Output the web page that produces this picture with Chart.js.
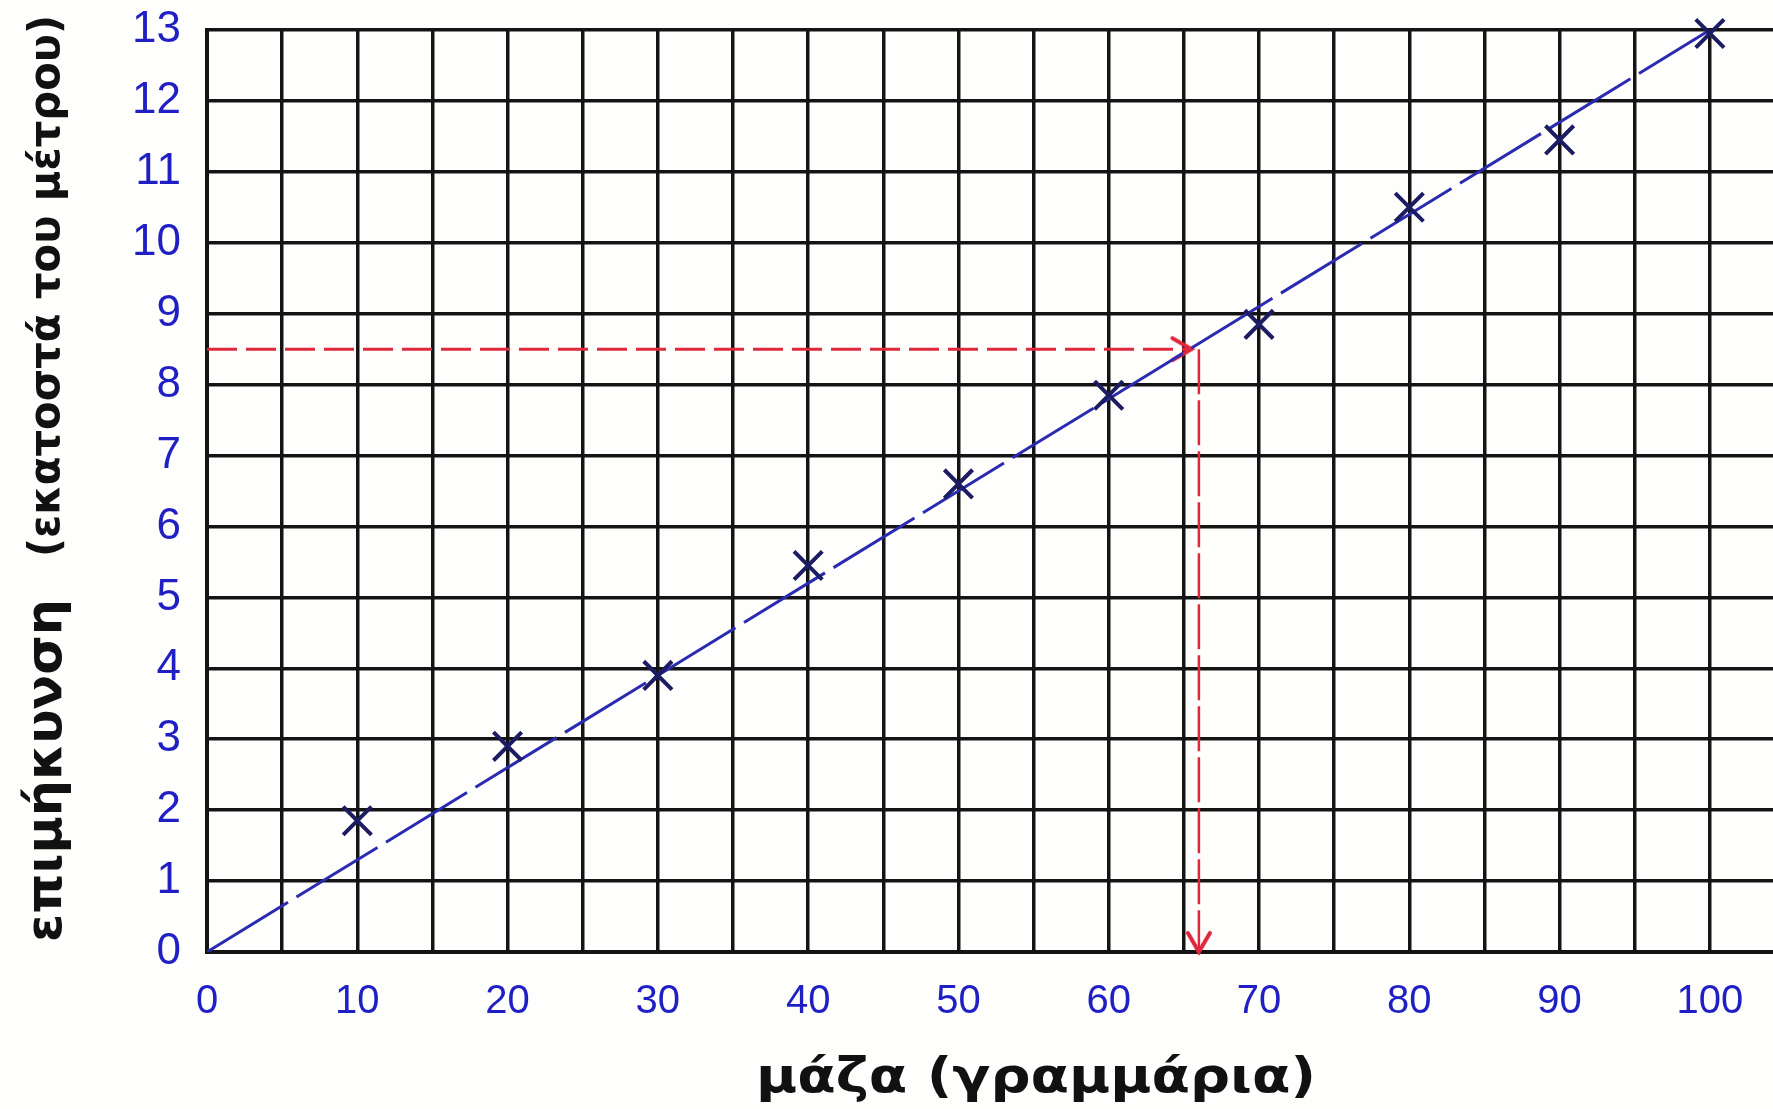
<!DOCTYPE html>
<html>
<head>
<meta charset="utf-8">
<title>επιμήκυνση - μάζα</title>
<script src="https://cdn.jsdelivr.net/npm/chart.js@4.4.1/dist/chart.umd.min.js"></script>
<style>
  html, body { margin: 0; padding: 0; background: #fefefc; }
  canvas { display: block; }
</style>
</head>
<body>
<canvas id="springChart" width="1773" height="1109"></canvas>
<script>
  // Values
  const masses = [10, 20, 30, 40, 50, 60, 70, 80, 90, 100];
  const extensions = [1.85, 2.9, 3.9, 5.45, 6.6, 7.85, 8.85, 10.5, 11.45, 12.95];

  // best-fit line drawn through the origin
  const fitMasses = [0, 100];
  const fitExtensions = [0, 13];

  // red guide: extension read across, then mass read down
  const readExtension = 8.5;
  const readMassTip = 65.5;
  const readMass = 66;

  const xTicks = [0, 5, 10, 15, 20, 25, 30, 35, 40, 45, 50, 55, 60, 65, 70, 75, 80, 85, 90, 95, 100];
  const yTicks = [0, 1, 2, 3, 4, 5, 6, 7, 8, 9, 10, 11, 12, 13];

  const xTitle = "μάζα (γραμμάρια)";
  const yTitleMain = "επιμήκυνση";
  const yTitleUnit = "(εκατοστά του μέτρου)";

  const gridColor = "#141414";
  const tickBlue = "#1f1fc4";
  const lineBlue = "#2b2bb2";
  const markColor = "#1c1c62";
  const guideRed = "#e0283c";

  // open chevron with its tip at the canvas centre (points right at rotation 0)
  function arrowHead(color) {
    const c = document.createElement("canvas");
    c.width = 48;
    c.height = 48;
    const g = c.getContext("2d");
    g.strokeStyle = color;
    g.lineWidth = 4;
    g.lineCap = "round";
    g.beginPath();
    g.moveTo(5, 13);
    g.lineTo(24, 24);
    g.lineTo(5, 35);
    g.stroke();
    return c;
  }

  // draw text stretched/squeezed to a given length
  function fitText(ctx, text, x, y, length) {
    const w = ctx.measureText(text).width;
    ctx.save();
    ctx.translate(x, y);
    ctx.scale(length / w, 1);
    ctx.fillText(text, 0, 0);
    ctx.restore();
  }

  const titlesPlugin = {
    id: "handTitles",
    afterDraw(chart) {
      const ctx = chart.ctx;
      ctx.save();
      ctx.fillStyle = "#111";
      ctx.textBaseline = "middle";

      ctx.font = 'bold 48px "DejaVu Sans"';
      ctx.textAlign = "left";
      fitText(ctx, xTitle, 756, 1080, 560);

      ctx.translate(48, 942);
      ctx.rotate(-Math.PI / 2);
      ctx.font = 'bold 50px "DejaVu Sans"';
      fitText(ctx, yTitleMain, 0, 0, 343);
      ctx.font = 'bold 42px "DejaVu Sans"';
      fitText(ctx, yTitleUnit, 385, 0, 542);
      ctx.restore();
    }
  };

  const ctx = document.getElementById("springChart").getContext("2d");
  new Chart(ctx, {
    type: "scatter",
    data: {
      datasets: [
        {
          label: "μετρήσεις",
          data: masses.map((m, i) => ({ x: m, y: extensions[i] })),
          showLine: false,
          pointStyle: "crossRot",
          pointRadius: 20,
          pointBorderWidth: 4,
          borderColor: markColor,
          backgroundColor: markColor,
          clip: false
        },
        {
          label: "ευθεία",
          data: fitMasses.map((m, i) => ({ x: m, y: fitExtensions[i] })),
          showLine: true,
          pointRadius: 0,
          borderColor: lineBlue,
          borderWidth: 3,
          borderDash: [95, 10]
        },
        {
          label: "οριζόντια",
          data: [{ x: 0, y: readExtension }, { x: readMassTip, y: readExtension }],
          showLine: true,
          borderColor: guideRed,
          borderWidth: 3,
          borderDash: [30, 9],
          pointRadius: [0, 10],
          pointStyle: arrowHead(guideRed),
          pointRotation: 0,
          clip: false
        },
        {
          label: "κατακόρυφη",
          data: [{ x: readMass, y: readExtension }, { x: readMass, y: 0 }],
          showLine: true,
          borderColor: guideRed,
          borderWidth: 2.5,
          borderDash: [45, 6],
          pointRadius: [0, 10],
          pointStyle: arrowHead(guideRed),
          pointRotation: 90,
          clip: false
        }
      ]
    },
    options: {
      responsive: false,
      animation: false,
      layout: { autoPadding: false, padding: { top: 30, left: 0, right: 0, bottom: 0 } },
      plugins: {
        legend: { display: false },
        tooltip: { enabled: false }
      },
      scales: {
        x: {
          type: "linear",
          min: 0,
          max: 104.2,
          afterBuildTicks: (s) => { s.ticks = xTicks.map((v) => ({ value: v })); },
          afterFit: (s) => {
            s.height = 157;
            s.paddingLeft = 0;
            s.paddingRight = 0;
          },
          grid: { color: gridColor, lineWidth: 3.5, drawTicks: false },
          border: { color: gridColor, width: 4 },
          ticks: {
            autoSkip: false,
            maxRotation: 0,
            padding: 26,
            color: tickBlue,
            font: { family: '"Liberation Sans"', size: 40 },
            callback: (v) => (v % 10 === 0 ? String(v) : "")
          }
        },
        y: {
          min: 0,
          max: 13,
          afterBuildTicks: (s) => { s.ticks = yTicks.map((v) => ({ value: v })); },
          afterFit: (s) => {
            s.width = 207;
            s.paddingTop = 0;
            s.paddingBottom = 0;
          },
          grid: { color: gridColor, lineWidth: 3.5, drawTicks: false },
          border: { color: gridColor, width: 4 },
          ticks: {
            autoSkip: false,
            padding: 26,
            color: tickBlue,
            font: { family: '"Liberation Sans"', size: 44 }
          }
        }
      }
    },
    plugins: [titlesPlugin]
  });
</script>
</body>
</html>
